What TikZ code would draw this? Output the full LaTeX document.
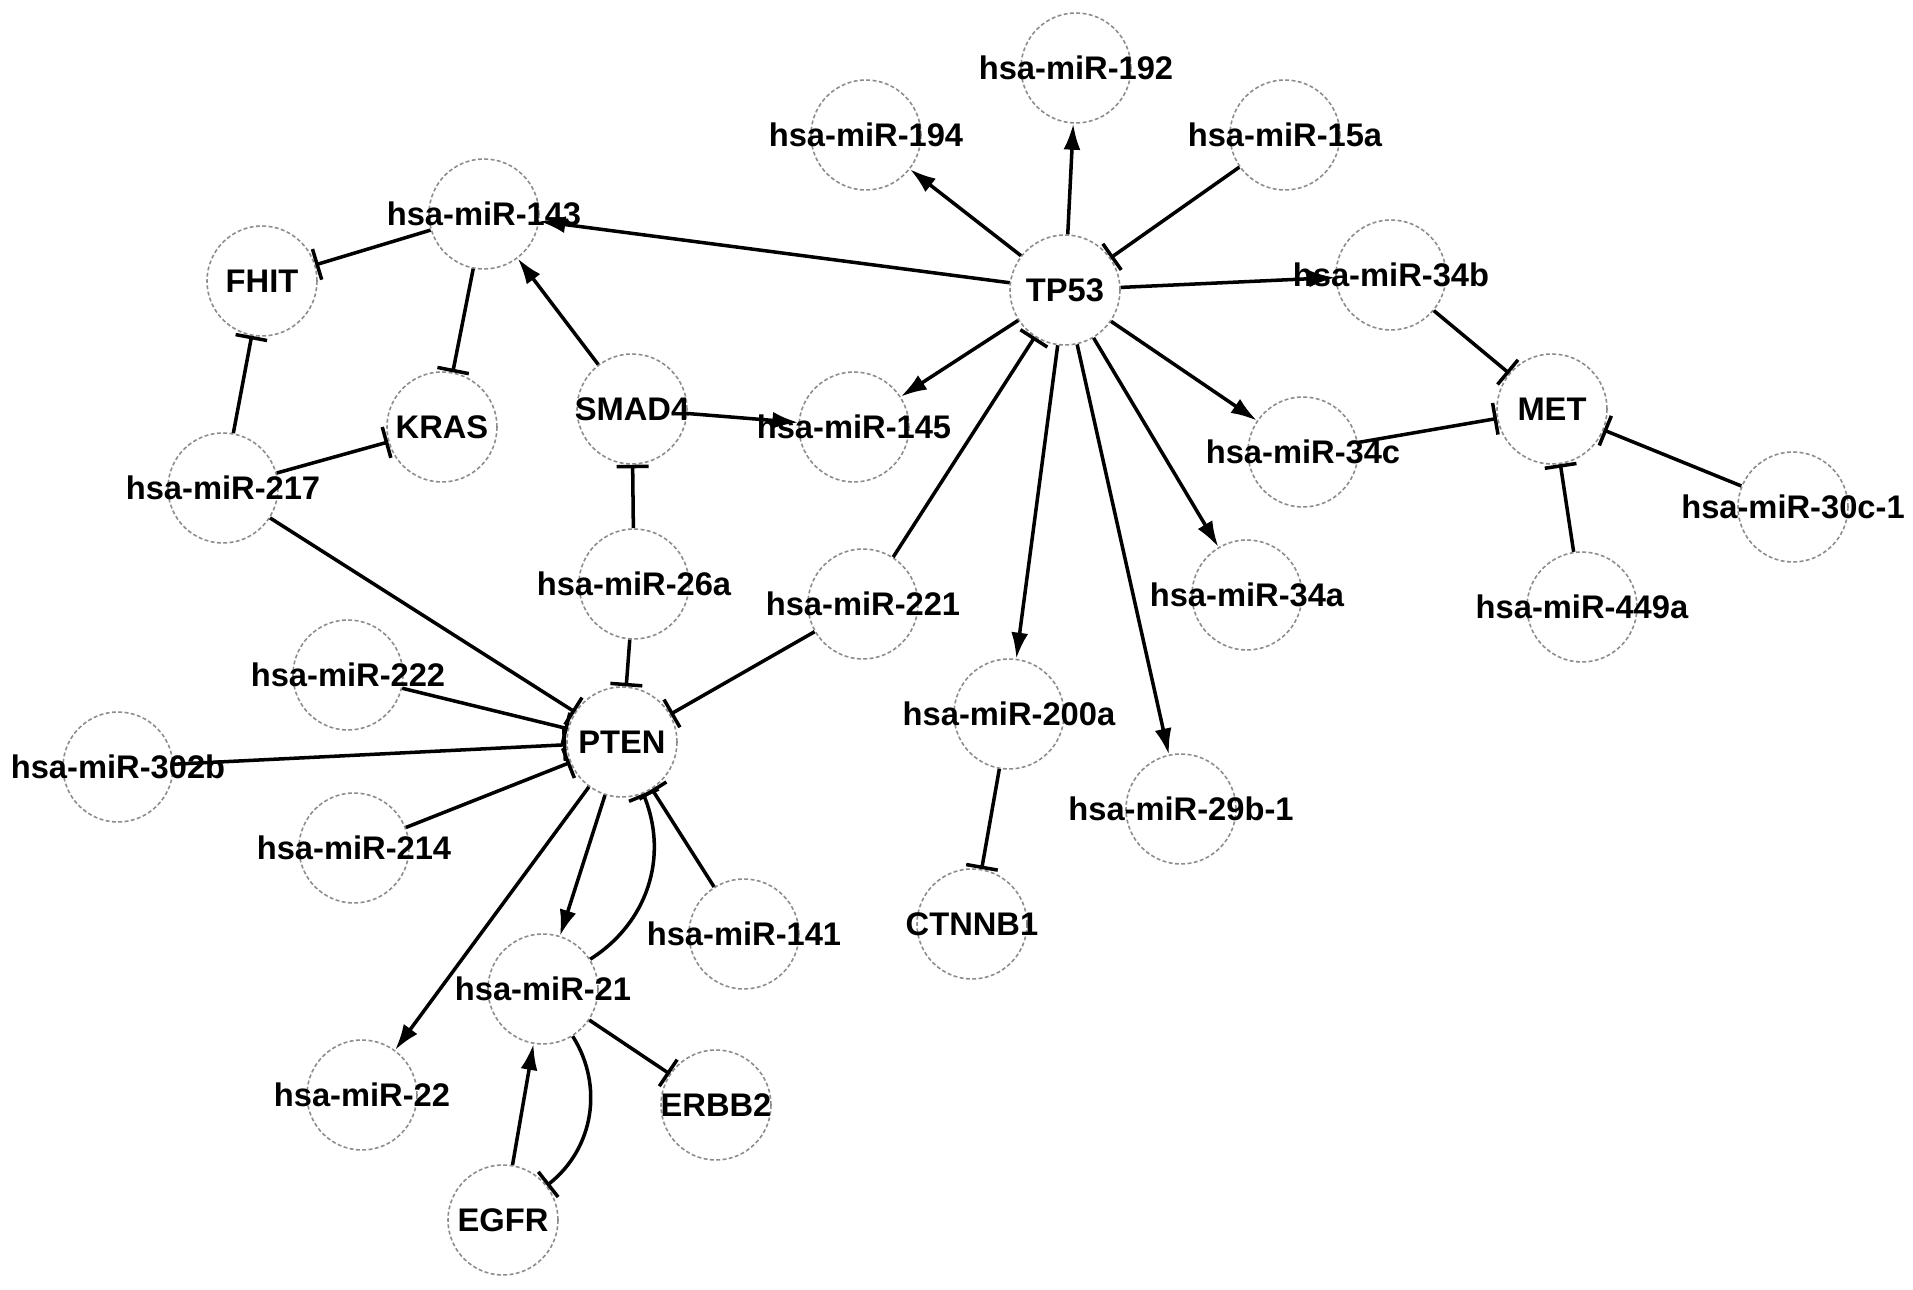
\documentclass[tikz,border=0pt]{standalone}
\usepackage{fontspec}
\setmainfont{Liberation Sans}
\usepackage{tikz}
\usetikzlibrary{arrows.meta}

\begin{document}
\begin{tikzpicture}[
  font=\bfseries\fontsize{9.3}{11}\selectfont,
  gene/.style={circle, draw=black!45, dash pattern=on 1.1pt off 0.7pt, line width=0.45pt, minimum size=1.1cm, inner sep=0pt, label={center:#1}},
  act/.style={-{Latex[length=2.6mm, width=1.7mm]}, line width=1pt},
  inh/.style={-{Bar[width=3.2mm]}, line width=1pt}
]
\fill[white] (0,0) rectangle (19.13,12.90);
\useasboundingbox (0,0) rectangle (19.13,12.90);

% p53 hub and its targets
\node[gene=TP53] (tp53) at (10.65,10.00) {};
\node[gene=hsa-miR-192] (m192) at (10.76,12.22) {};
\node[gene=hsa-miR-194] (m194) at (8.66,11.55) {};
\node[gene=hsa-miR-15a] (m15a) at (12.85,11.55) {};
\node[gene=hsa-miR-34b] (m34b) at (13.91,10.15) {};
\node[gene=hsa-miR-34c] (m34c) at (13.03,8.38) {};
\node[gene=hsa-miR-34a] (m34a) at (12.47,6.95) {};
\node[gene=hsa-miR-145] (m145) at (8.54,8.63) {};
\node[gene=hsa-miR-200a] (m200a) at (10.09,5.76) {};
\node[gene=hsa-miR-29b-1] (m29b) at (11.81,4.81) {};
\node[gene=CTNNB1] (ctnnb1) at (9.72,3.66) {};

% MET group
\node[gene=MET] (met) at (15.52,8.81) {};
\node[gene=hsa-miR-30c-1] (m30c) at (17.93,7.83) {};
\node[gene=hsa-miR-449a] (m449a) at (15.82,6.83) {};

% upper left group
\node[gene=hsa-miR-143] (m143) at (4.84,10.76) {};
\node[gene=FHIT] (fhit) at (2.62,10.09) {};
\node[gene=KRAS] (kras) at (4.42,8.63) {};
\node[gene=SMAD4] (smad4) at (6.32,8.81) {};
\node[gene=hsa-miR-217] (m217) at (2.23,8.02) {};
\node[gene=hsa-miR-26a] (m26a) at (6.34,7.06) {};
\node[gene=hsa-miR-221] (m221) at (8.63,6.86) {};

% PTEN group
\node[gene=PTEN] (pten) at (6.22,5.48) {};
\node[gene=hsa-miR-222] (m222) at (3.48,6.15) {};
\node[gene=hsa-miR-302b] (m302b) at (1.18,5.23) {};
\node[gene=hsa-miR-214] (m214) at (3.54,4.42) {};
\node[gene=hsa-miR-141] (m141) at (7.44,3.56) {};
\node[gene=hsa-miR-21] (m21) at (5.43,3.01) {};
\node[gene=hsa-miR-22] (m22) at (3.62,1.95) {};
\node[gene=ERBB2] (erbb2) at (7.16,1.85) {};
\node[gene=EGFR] (egfr) at (5.03,0.70) {};

\draw[act] (tp53) -- (m194);
\draw[act] (tp53) -- (m192);
\draw[inh] (m15a) -- (tp53);
\draw[act] (tp53) -- (m143);
\draw[act] (tp53) -- (m34b);
\draw[act] (tp53) -- (m145);
\draw[act] (tp53) -- (m34c);
\draw[act] (tp53) -- (m34a);
\draw[act] (tp53) -- (m200a);
\draw[act] (tp53) -- (m29b);
\draw[inh] (m221) -- (tp53);
\draw[inh] (m200a) -- (ctnnb1);

\draw[inh] (m34b) -- (met);
\draw[inh] (m34c) -- (met);
\draw[inh] (m449a) -- (met);
\draw[inh] (m30c) -- (met);

\draw[inh] (m143) -- (fhit);
\draw[inh] (m143) -- (kras);
\draw[act] (smad4) -- (m143);
\draw[act] (smad4) -- (m145);
\draw[inh] (m26a) -- (smad4);
\draw[inh] (m217) -- (fhit);
\draw[inh] (m217) -- (kras);

\draw[inh] (m217) -- (pten);
\draw[inh] (m26a) -- (pten);
\draw[inh] (m221) -- (pten);
\draw[inh] (m222) -- (pten);
\draw[inh] (m302b) -- (pten);
\draw[inh] (m214) -- (pten);
\draw[inh] (m141) -- (pten);
\draw[act] (pten) -- (m21);
\draw[inh] (m21) to[bend right=40] (pten);
\draw[act] (pten) -- (m22);
\draw[inh] (m21) -- (erbb2);
\draw[act] (egfr) -- (m21);
\draw[inh] (m21) to[bend left=42] (egfr);
\end{tikzpicture}
\end{document}
